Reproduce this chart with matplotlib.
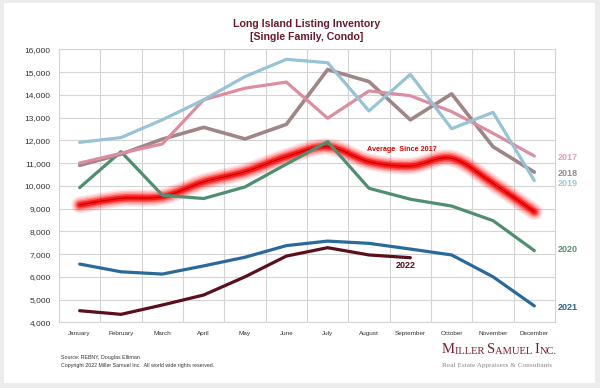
import matplotlib
matplotlib.use("Agg")
import matplotlib.pyplot as plt
from matplotlib.path import Path
from matplotlib.patches import PathPatch, Rectangle
from matplotlib.text import Annotation
import numpy as np

plt.rcParams['font.family'] = ['Liberation Sans', 'DejaVu Sans']

months = ["January", "February", "March", "April", "May", "June", "July",
          "August", "September", "October", "November", "December"]
y2017 = [11000, 11430, 11840, 13780, 14290, 14560, 12970, 14170, 13960, 13260, 12310, 11310]
y2018 = [10900, 11390, 12050, 12570, 12060, 12700, 15110, 14580, 12900, 14040, 11720, 10600]
y2019 = [11910, 12120, 12900, 13780, 14800, 15560, 15410, 13290, 14900, 12510, 13230, 10230]
y2020 = [9920, 11500, 9590, 9440, 9950, 10950, 11940, 9890, 9410, 9110, 8470, 7150]
y2021 = [6560, 6220, 6120, 6480, 6860, 7370, 7570, 7470, 7220, 6960, 6000, 4720]
y2022 = [4510, 4350, 4760, 5200, 6000, 6910, 7280, 6960, 6840]
avg = [9160, 9450, 9520, 10170, 10620, 11280, 11720, 11060, 10870, 11210, 10110, 8860]
yticks = list(range(4000, 16001, 1000))

W, H = 600, 388
fig = plt.figure(figsize=(6, 3.88), dpi=100, facecolor='#ececec')
fig.patches.append(Rectangle((4 / W, 1 - 383 / H), 591 / W, 380 / H,
                             transform=fig.transFigure, facecolor='white',
                             edgecolor='none', zorder=-10))

ax = fig.add_axes([59 / W, 1 - 322.3 / H, (555 - 59) / W, (322.3 - 49.3) / H], zorder=1)
ax.set_facecolor('none')
ax.set_xlim(-0.5, 11.5)
ax.set_ylim(4000, 16000)
x = np.arange(len(months))

# grid
ax.set_yticks(yticks)
ax.set_yticklabels([f"{v:,}" for v in yticks], fontsize=6, color='#333333')
ax.set_xticks(x)
ax.set_xticklabels(months, fontsize=4.6, color='#333333')
ax.set_xticks(np.arange(-0.5, 12, 1), minor=True)
ax.tick_params(axis='both', which='both', length=0)
ax.tick_params(axis='x', pad=6)
ax.tick_params(axis='y', pad=6)
ax.grid(True, axis='y', which='major', color='#d4d4d4', lw=0.8)
ax.grid(True, axis='x', which='minor', color='#d4d4d4', lw=0.8)
ax.grid(False, axis='x', which='major')
for s in ax.spines.values():
    s.set_color('#d4d4d4')
    s.set_linewidth(0.8)
ax.set_axisbelow(True)


def smooth_path(xs, ys):
    pts = np.column_stack([xs, ys]).astype(float)
    n = len(pts)
    verts = [pts[0]]
    codes = [Path.MOVETO]
    for i in range(n - 1):
        p0 = pts[i - 1] if i > 0 else pts[i]
        p1 = pts[i]
        p2 = pts[i + 1]
        p3 = pts[i + 2] if i + 2 < n else pts[i + 1]
        c1 = p1 + (p2 - p0) / 6.0
        c2 = p2 - (p3 - p1) / 6.0
        verts += [c1, c2, p2]
        codes += [Path.CURVE4] * 3
    return Path(verts, codes)


# average glow
path = smooth_path(x, avg)
for wpx, a in [(17, 0.10), (14, 0.14), (11, 0.22), (8, 0.4), (5, 0.75)]:
    ax.add_patch(PathPatch(path, fill=False, edgecolor='#ff0000', lw=wpx * 0.72,
                           alpha=a, capstyle='round', joinstyle='round', zorder=2))
ax.add_patch(PathPatch(path, fill=False, edgecolor='#b00000', lw=0.7, zorder=2.5))

lw = 2.3
ax.plot(x, y2021, color='#2a6a9a', lw=lw, zorder=3, solid_capstyle='round')
ax.plot(x[:len(y2022)], y2022, color='#5a0f1c', lw=lw, zorder=3, solid_capstyle='round')
ax.plot(x, y2020, color='#4f8f70', lw=lw, zorder=4, solid_capstyle='round')
ax.plot(x, y2018, color='#a08586', lw=lw + 0.3, zorder=5, solid_capstyle='round')
ax.plot(x, y2017, color='#dc8ea0', lw=lw, zorder=6, solid_capstyle='round')
ax.plot(x, y2019, color='#96c3d6', lw=lw, zorder=7, solid_capstyle='round')


def ftext(px, py, s, **kw):
    return fig.text(px / W, 1 - py / H, s, **kw)


lab = dict(fontsize=6.5, fontweight='bold', ha='center', va='center')
ftext(568, 157, "2017", color='#e3a0b0', **lab)
ftext(568, 173, "2018", color='#9a8a8a', **lab)
ftext(568, 183, "2019", color='#9dc6dc', **lab)
ftext(568, 249, "2020", color='#5b9277', **lab)
ftext(568, 307, "2021", color='#2f6795', **lab)
ftext(406, 266, "2022", color='#5a0f1c', fontsize=6.5, fontweight='bold', ha='center', va='center')
ftext(402, 150, "Average  Since 2017", color='#e00000', fontsize=5.2, fontweight='bold',
      ha='center', va='center')

# title
ftext(307, 24, "Long Island Listing Inventory", color='#6b1a2e', fontsize=7.6,
      fontweight='bold', ha='center', va='center')
ftext(307, 37, "[Single Family, Condo]", color='#6b1a2e', fontsize=7.6,
      fontweight='bold', ha='center', va='center')

# footer
ftext(61, 357, "Source: REBNY, Douglas Elliman", color='#333333', fontsize=3.8,
      ha='left', va='center')
ftext(61, 366, "Copyright 2022 Miller Samuel Inc.  All world wide rights reserved.",
      color='#333333', fontsize=3.8, ha='left', va='center')

# logo (small caps emulation)
logo_col = '#7b1e2e'
big, small = 10.5, 7.6
parts = [("M", big), ("ILLER ", small), ("S", big), ("AMUEL ", small), ("I", big), ("NC.", small)]
cur = ftext(442, 356, parts[0][0], fontsize=parts[0][1], family='Liberation Serif',
            color=logo_col, ha='left', va='bottom')
for s, fs in parts[1:]:
    cur = fig.add_artist(Annotation(
        s, xy=(1, 0), xycoords=cur, xytext=(0, 0), textcoords='offset points',
        fontsize=fs, family='Liberation Serif', color=logo_col, ha='left', va='bottom'))

ftext(442, 366, "Real Estate Appraisers & Consultants", color='#8a8a8a', fontsize=5.2,
      family='Liberation Serif', ha='left', va='center')

fig.savefig('out.png', dpi=100, facecolor=fig.get_facecolor())
